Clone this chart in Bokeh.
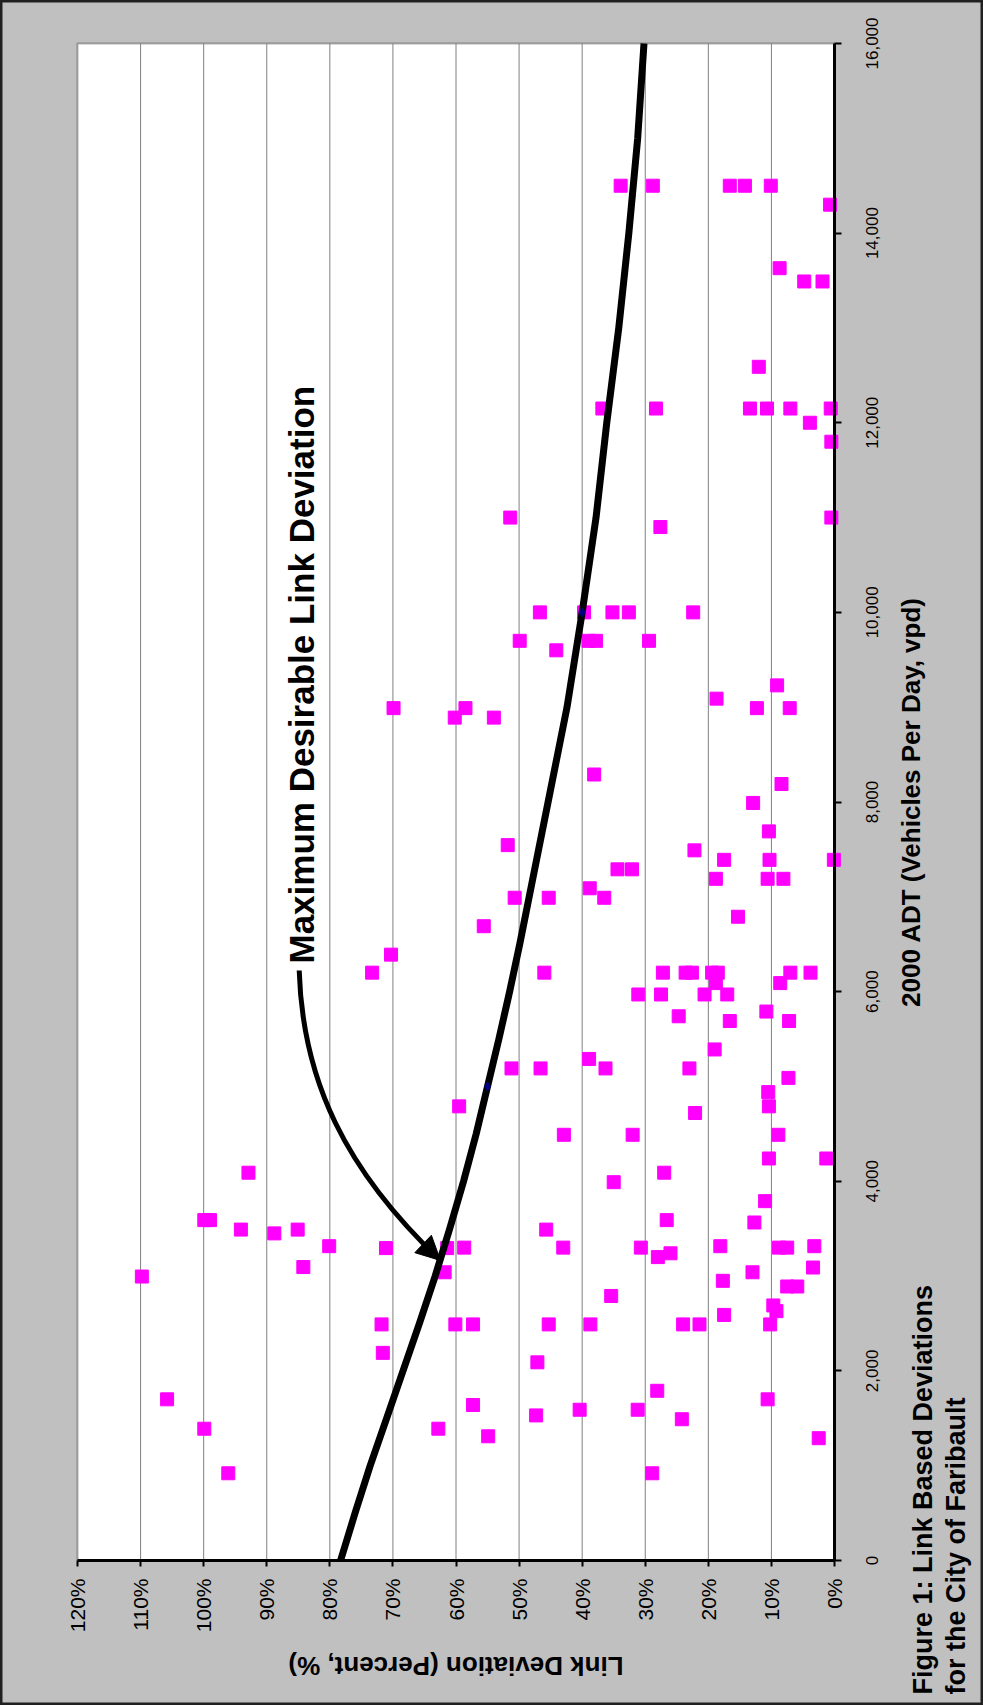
import math
from bokeh.plotting import figure
from bokeh.models import (Range1d, FixedTicker, PrintfTickFormatter, Label, Arrow,
                          NormalHead, BoxAnnotation)
from bokeh.core.properties import value
from bokeh.embed import file_html
from bokeh.resources import INLINE

# ---------------- data ----------------
deviation_pct = [
    33.9, 28.8, 16.6, 14.2, 10.1, 0.7, 8.7, 4.8, 1.9, 12.0,
    36.8, 28.3, 13.4, 10.7, 7.0, 0.6, 3.9, 0.5, 51.4, 27.6, 0.5,
    46.7, 39.7, 35.2, 32.6, 22.4, 49.9, 44.1, 39.0, 37.8, 29.4,
    69.9, 60.2, 58.5, 54.0, 70.3, 73.3, 59.5,
    9.1, 18.7, 12.3, 7.1, 38.1, 8.4, 12.9, 10.4,
    51.8, 22.2, 17.5, 10.3, 0.1, 34.4, 32.1, 18.8, 10.6, 8.1, 38.8,
    50.7, 45.3, 36.5, 15.3, 55.6,
    46.0, 27.2, 23.6, 22.6, 19.4, 18.5, 7.0, 3.8, 18.8, 8.6,
    31.1, 27.5, 20.6, 17.0, 24.7, 10.8, 16.6, 7.2, 19.0, 38.9,
    51.2, 46.6, 36.3, 23.0, 7.3, 10.5, 10.4, 22.1, 42.9, 32.0, 8.9,
    10.4, 1.3, 27.0, 35.0, 11.0, 26.6, 12.7, 45.7,
    58.7, 43.0, 30.7, 18.1, 8.8, 7.5, 3.2,
    28.0, 26.0, 3.4, 13.0, 17.7, 7.5, 5.9, 35.4, 9.7, 9.2, 17.5,
    60.1, 57.3, 45.3, 38.7, 24.0, 21.4, 10.2,
    47.1, 28.1, 10.6, 57.3, 47.3, 40.4, 31.2, 24.2, 54.9, 2.5, 28.9,
    92.9, 99.9, 99.0, 94.1, 88.8, 85.1, 80.1, 71.1, 61.4, 84.2, 61.8, 109.8,
    71.8, 71.6, 105.8, 99.9, 62.8, 96.1,
]
adt_vpd = [
    14500, 14500, 14500, 14500, 14500, 14300, 13630, 13490, 13490, 12590,
    12150, 12150, 12150, 12150, 12150, 12150, 12000, 11800, 11000, 10900, 11000,
    10000, 10000, 10000, 10000, 10000, 9700, 9600, 9700, 9700, 9700,
    8990, 8890, 8990, 8890, 6390, 6200, 4790,
    9230, 9090, 8990, 8990, 8290, 8190, 7990, 7690,
    7545, 7490, 7390, 7390, 7390, 7290, 7290, 7190, 7190, 7190, 7090,
    6990, 6990, 6990, 6790, 6690,
    6200, 6200, 6200, 6200, 6200, 6200, 6200, 6200, 6090, 6090,
    5970, 5970, 5970, 5970, 5740, 5790, 5690, 5690, 5390, 5290,
    5190, 5190, 5190, 5190, 5090, 4940, 4790, 4720, 4490, 4490, 4490,
    4240, 4240, 4090, 3990, 3790, 3590, 3565, 3490,
    3300, 3300, 3300, 3315, 3300, 3300, 3315,
    3200, 3240, 3090, 3040, 2950, 2890, 2890, 2790, 2690, 2630, 2590,
    2490, 2490, 2490, 2490, 2490, 2490, 2490,
    2090, 1790, 1700, 1640, 1530, 1590, 1590, 1490, 1310, 1290, 920,
    4090, 3590, 3590, 3490, 3450, 3490, 3315, 3295, 3295, 3095, 3040, 2995,
    2490, 2190, 1700, 1390, 1390, 920,
]
curve_adt = [0, 500, 1000, 1500, 2000, 2500, 3000, 3500, 4000, 4500, 5000,
             5500, 6000, 6500, 7000, 7500, 8000, 8500, 9000, 9500, 10000,
             11000, 12000, 13000, 14000, 15000, 16000]
curve_pct = [78.3, 76.0, 73.6, 71.0, 68.4, 65.8, 63.3, 61.0, 58.8, 56.8, 55.0,
             53.2, 51.5, 49.9, 48.4, 46.9, 45.4, 43.9, 42.4, 41.2, 40.0,
             37.8, 36.1, 34.2, 32.6, 31.2, 30.2]
pct_ticks = [0, 10, 20, 30, 40, 50, 60, 70, 80, 90, 100, 110, 120]
adt_ticks = [0, 2000, 4000, 6000, 8000, 10000, 12000, 14000, 16000]
adt_tick_labels = ["0", "2,000", "4,000", "6,000", "8,000", "10,000",
                   "12,000", "14,000", "16,000"]

# ---------------- layout (pixels of the page) ----------------
W, H = 983, 1705
PL, PR, PT, PB = 77, 834, 43, 1560          # plot area edges
PCT_MAX, ADT_MAX = 120, 16000
X_PER = PCT_MAX / (PR - PL)
Y_PER = ADT_MAX / (PB - PT)


def xd(px):
    return (PR - px) * X_PER


def yd(py):
    return (PB - py) * Y_PER


FONT = "Liberation Sans"

p = figure(width=W, height=H, output_backend="svg", toolbar_location=None,
           x_range=Range1d(xd(0), xd(W)), y_range=Range1d(yd(H), yd(0)),
           y_axis_location="right", min_border=0)
p.background_fill_color = "#C0C0C0"
p.border_fill_color = "#C0C0C0"
p.outline_line_color = "#202020"
p.outline_line_width = 4
p.xgrid.visible = False
p.ygrid.visible = False

# white plot area with black outline
p.add_layout(BoxAnnotation(left=0, right=PCT_MAX, bottom=0, top=ADT_MAX,
                           fill_color="white", fill_alpha=1.0,
                           line_color="black", line_width=2, level="image"))

# vertical grid lines at each 10 %
grid_x = [t for t in pct_ticks if 0 < t < PCT_MAX]
p.segment(x0=grid_x, y0=[0] * len(grid_x), x1=grid_x, y1=[ADT_MAX] * len(grid_x),
          line_color="#808080", line_width=1)

# percent axis (drawn along ADT = 0)
xa = p.xaxis[0]
xa.fixed_location = 0
xa.bounds = (0, PCT_MAX)
xa.ticker = FixedTicker(ticks=pct_ticks)
xa.formatter = PrintfTickFormatter(format="%d%%")
xa.major_label_orientation = math.pi / 2
xa.major_label_text_font = FONT
xa.major_label_text_font_size = "21px"
xa.major_label_text_color = "black"
xa.major_label_standoff = 12
xa.axis_line_width = 3
xa.axis_line_color = "black"
xa.major_tick_out = 6
xa.major_tick_in = 0
xa.major_tick_line_width = 2
xa.minor_tick_line_color = None

# ADT axis (drawn along 0 %)
ya = p.yaxis[0]
ya.fixed_location = 0
ya.bounds = (0, ADT_MAX)
ya.ticker = FixedTicker(ticks=adt_ticks)
ya.major_label_text_color = None
ya.axis_line_width = 3
ya.axis_line_color = "black"
ya.major_tick_out = 7
ya.major_tick_in = 0
ya.major_tick_line_width = 2
ya.minor_tick_line_color = None

# ADT tick labels, reading bottom-to-top, centred on the ticks
p.text(x=[xd(871)] * len(adt_ticks), y=adt_ticks, text=adt_tick_labels,
       angle=math.pi / 2, text_align="center", text_baseline="alphabetic",
       text_font=value(FONT), text_font_size="17px", text_color="black")

# scatter of link deviations
p.scatter(x=deviation_pct, y=adt_vpd, marker="square", size=13,
          fill_color="#FF00FF", line_color="#FF00FF")

# maximum desirable deviation curve
p.line(x=curve_pct, y=curve_adt, line_color="black", line_width=7,
       line_join="round")
mk_x = [c for c, a in zip(curve_pct, curve_adt) if a in (5000, 10000)]
mk_y = [a for a in curve_adt if a in (5000, 10000)]
p.scatter(x=mk_x, y=mk_y, marker="diamond", size=9, fill_color="#000080",
          line_color="#000080")

# annotation text and arrow
p.add_layout(Label(x=xd(301), y=yd(963), text="Maximum Desirable Link Deviation",
                   angle=math.pi / 2, text_font=FONT, text_font_style="bold",
                   text_font_size="35px", text_color="black",
                   text_align="left", text_baseline="alphabetic"))
p.bezier(x0=[xd(298.7)], y0=[yd(970)], x1=[xd(440)], y1=[yd(1260)],
         cx0=[xd(302)], cy0=[yd(1080)], cx1=[xd(345)], cy1=[yd(1170)],
         line_color="black", line_width=5)
p.add_layout(Arrow(x_start=xd(425.5), y_start=yd(1246.2), x_end=xd(440), y_end=yd(1260),
                   line_color="black", line_width=5,
                   end=NormalHead(size=24, fill_color="black", line_color="black")))

# axis titles
p.add_layout(Label(x=xd((PL + PR) / 2), y=yd(1665), text="Link Deviation (Percent, %)",
                   angle=math.pi, text_font=FONT, text_font_style="bold",
                   text_font_size="26px", text_color="black",
                   text_align="center", text_baseline="middle"))
p.add_layout(Label(x=xd(910), y=ADT_MAX / 2, text="2000 ADT (Vehicles Per Day, vpd)",
                   angle=math.pi / 2, text_font=FONT, text_font_style="bold",
                   text_font_size="26px", text_color="black",
                   text_align="center", text_baseline="alphabetic"))

# figure caption
p.add_layout(Label(x=xd(922), y=yd(1694), text="Figure 1: Link Based Deviations",
                   angle=math.pi / 2, text_font=FONT, text_font_style="bold",
                   text_font_size="27px", text_color="black",
                   text_align="left", text_baseline="alphabetic"))
p.add_layout(Label(x=xd(955), y=yd(1694), text="for the City of Faribault",
                   angle=math.pi / 2, text_font=FONT, text_font_style="bold",
                   text_font_size="27px", text_color="black",
                   text_align="left", text_baseline="alphabetic"))

open("out.html", "w").write(file_html(p, INLINE))
